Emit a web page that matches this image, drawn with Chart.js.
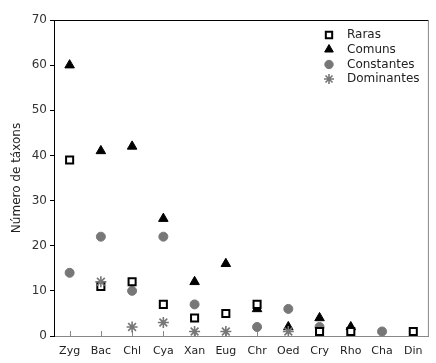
<!DOCTYPE html>
<html>
<head>
<meta charset="utf-8">
<script src="https://cdn.jsdelivr.net/npm/chart.js@4.4.1/dist/chart.umd.min.js"></script>
<style>
  html, body { margin: 0; padding: 0; background: #fff; }
  #wrap { width: 436px; height: 363px; }
</style>
</head>
<body>
<div id="wrap"><canvas id="chart" width="436" height="363"></canvas></div>
<script>
const ctx = document.getElementById("chart");

// groups on the x axis
const grupos = ["Zyg", "Bac", "Chl", "Cya", "Xan", "Eug", "Chr", "Oed", "Cry", "Rho", "Cha", "Din"];

// number of taxa per group (null = no point)
const raras       = [39, 11, 12, 7, 4, 5, 7, null, 1, 1, null, 1];
const comuns      = [60, 41, 42, 26, 12, 16, 6, 2, 4, 2, null, null];
const constantes  = [14, 22, 10, 22, 7, null, 2, 6, 2, null, 1, null];
const dominantes  = [null, 12, 2, 3, 1, 1, null, 1, null, null, null, null];

const yTicks = [0, 10, 20, 30, 40, 50, 60, 70];

const fontName = "'DejaVu Sans', Verdana, sans-serif";

// legend drawn inside the plot, top right
const legendBox = {
  id: "legendBox",
  afterDraw(chart) {
    const c = chart.ctx;
    const x0 = 329, tx = 347;
    const rows = [35, 49.5, 64.5, 79];
    const sizes = [4.5, 5, 4.2, 5];
    c.save();
    chart.data.datasets.forEach((ds, i) => {
      c.fillStyle = ds.backgroundColor;
      c.strokeStyle = ds.borderColor;
      c.lineWidth = ds.borderWidth;
      Chart.helpers.drawPoint(c, {
        pointStyle: ds.pointStyle,
        radius: sizes[i],
        borderWidth: ds.borderWidth,
        rotation: 0
      }, x0, rows[i]);
      c.fillStyle = "#222";
      c.font = "12px " + fontName;
      c.textBaseline = "middle";
      c.fillText(ds.label, tx, rows[i]);
    });
    c.restore();
  }
};

// box around the plot + small ticks on x axis
const frame = {
  id: "frame",
  beforeDatasetsDraw(chart) {
    const a = chart.chartArea;
    const c = chart.ctx;
    c.save();
    c.lineWidth = 1;
    c.strokeStyle = "#000";
    c.beginPath();
    c.moveTo(a.left, a.top + 0.5);
    c.lineTo(a.right, a.top + 0.5);
    c.stroke();
    c.strokeStyle = "#888";
    c.beginPath();
    c.moveTo(a.right - 0.5, a.top);
    c.lineTo(a.right - 0.5, a.bottom);
    c.stroke();
    const xs = chart.scales.x;
    c.strokeStyle = "#888";
    grupos.forEach((g, i) => {
      const px = Math.round(xs.getPixelForTick(i)) + 0.5;
      c.beginPath();
      c.moveTo(px, a.bottom);
      c.lineTo(px, a.bottom - 5);
      c.stroke();
    });
    c.restore();
  }
};

new Chart(ctx, {
  type: "line",
  data: {
    labels: grupos,
    datasets: [
      {
        label: "Raras",
        data: raras,
        showLine: false,
        pointStyle: "rect",
        pointRadius: 5,
        pointHoverRadius: 5,
        backgroundColor: "#fff",
        borderColor: "#000",
        borderWidth: 2,
        order: 1
      },
      {
        label: "Comuns",
        data: comuns,
        showLine: false,
        pointStyle: "triangle",
        pointRadius: 5.5,
        pointHoverRadius: 5.5,
        backgroundColor: "#000",
        borderColor: "#000",
        borderWidth: 1,
        order: 3
      },
      {
        label: "Constantes",
        data: constantes,
        showLine: false,
        pointStyle: "circle",
        pointRadius: 4.5,
        pointHoverRadius: 4.5,
        backgroundColor: "#777",
        borderColor: "#777",
        borderWidth: 1,
        order: 2
      },
      {
        label: "Dominantes",
        data: dominantes,
        showLine: false,
        pointStyle: "star",
        pointRadius: 5.5,
        pointHoverRadius: 5.5,
        backgroundColor: "#777",
        borderColor: "#777",
        borderWidth: 1.6,
        order: 0
      }
    ]
  },
  options: {
    responsive: false,
    animation: false,
    layout: { padding: { top: 20, right: 6, left: 0, bottom: 0 } },
    plugins: {
      legend: { display: false },
      tooltip: { enabled: false }
    },
    scales: {
      x: {
        offset: true,
        grid: { display: false },
        border: { display: true, color: "#888", width: 1 },
        ticks: {
          color: "#222",
          font: { family: fontName, size: 11 },
          padding: 1,
          maxRotation: 0
        },
        afterFit: (scale) => { scale.height = 27; }
      },
      y: {
        min: 0,
        max: 70,
        afterBuildTicks: (scale) => { scale.ticks = yTicks.map(v => ({ value: v })); },
        grid: { drawOnChartArea: false, drawTicks: true, tickLength: 4, color: "#000" },
        border: { display: true, color: "#000", width: 1 },
        ticks: {
          color: "#333",
          font: { family: fontName, size: 12 },
          padding: 3
        },
        title: {
          display: true,
          text: "Número de táxons",
          color: "#222",
          font: { family: fontName, size: 12 },
          padding: { top: 10, bottom: 0 }
        },
        afterFit: (scale) => { scale.width = 54; }
      }
    }
  },
  plugins: [frame, legendBox]
});
</script>
</body>
</html>
